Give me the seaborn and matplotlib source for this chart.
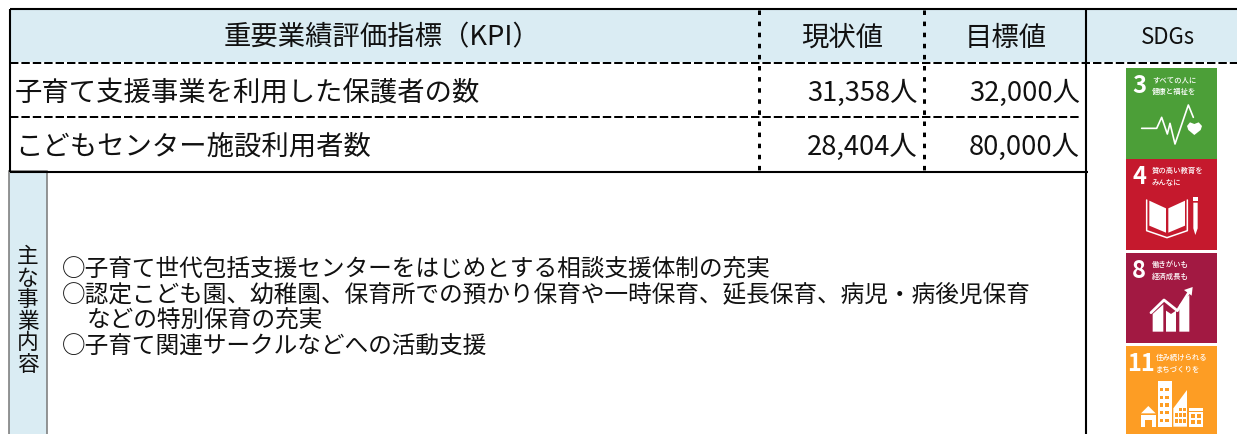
import matplotlib.pyplot as plt
from matplotlib.patches import Rectangle, Polygon, Circle
import seaborn as sns

sns.set_theme(style='white')
plt.rcParams['font.family'] = ['Noto Sans CJK JP', 'DejaVu Sans']

# table content
header_kpi = '重要業績評価指標（KPI）'
header_now = '現状値'
header_goal = '目標値'
header_sdg = 'SDGs'
kpi_names = ['子育て支援事業を利用した保護者の数', 'こどもセンター施設利用者数']
now_vals = ['31,358人', '28,404人']
goal_vals = ['32,000人', '80,000人']
side_label = '主\nな\n事\n業\n内\n容'
body_lines = [
    '○子育て世代包括支援センターをはじめとする相談支援体制の充実',
    '○認定こども園、幼稚園、保育所での預かり保育や一時保育、延長保育、病児・病後児保育',
    'などの特別保育の充実',
    '○子育て関連サークルなどへの活動支援',
]
goal_nums = ['3', '4', '8', '11']
goal_texts = ['すべての人に\n健康と福祉を', '質の高い教育を\nみんなに', '働きがいも\n経済成長も', '住み続けられる\nまちづくりを']
goal_cols = ['#4c9f38', '#c5192d', '#a21942', '#fd9d24']

HEAD = '#daecf3'
fig = plt.figure(figsize=(12.37, 4.34), dpi=100)
ax = fig.add_axes([0, 0, 1, 1])
ax.set_xlim(0, 1237)
ax.set_ylim(434, 0)
ax.axis('off')

# header band
ax.add_patch(Rectangle((10, 9), 1227, 53, fc=HEAD, ec='none'))

solid = dict(color='black', lw=1.5, solid_capstyle='butt')
dash = dict(color='black', lw=1.44, ls=(0, (4.2, 1.5)), dash_capstyle='butt')
dots = dict(color='black', lw=2.16, ls=(0, (1.5, 2.2)), dash_capstyle='butt')
ax.plot([10, 1237], [9, 9], **solid)
ax.plot([10, 10], [9, 172], **solid)
ax.plot([10, 1088], [172, 172], **solid)
ax.plot([1086, 1086], [9, 434], **solid)
ax.plot([10, 1237], [63, 63], **dash)
ax.plot([10, 1081], [117, 117], **dash)
for x in [759, 924]:
    ax.plot([x, x], [10, 170], **dots)

# side label box
ax.add_patch(Rectangle((9, 171), 38, 270, fc=HEAD, ec='#777777', lw=1.1))
ax.text(28, 311, side_label, fontsize=15.6, ha='center', va='center', linespacing=0.98, color='#111111')

big = dict(fontsize=19.7, color='#111111', va='center')
ax.text(382, 38, header_kpi, ha='center', **big)
ax.text(842, 38, header_now, ha='center', **big)
ax.text(1006, 38, header_goal, ha='center', **big)
ax.text(1168, 38, header_sdg, ha='center', fontsize=16, color='#111111', va='center')

for name, now, goal, y, x0 in zip(kpi_names, now_vals, goal_vals, [93, 147], [14.5, 15]):
    ax.text(x0, y, name, ha='left', **big)
    ax.text(918, y, now, ha='right', **big)
    ax.text(1080, y, goal, ha='right', **big)

for line, y, x0 in zip(body_lines, [269, 295, 321, 347], [62, 62, 87, 62]):
    ax.text(x0, y, line, fontsize=17.05, color='#111111', ha='left', va='center')

# SDG tiles
tops = [68, 159, 253, 346]
bottoms = [159, 250, 343, 434]
for num, txt, col, t, b in zip(goal_nums, goal_texts, goal_cols, tops, bottoms):
    ax.add_patch(Rectangle((1126, t), 91, b - t, fc=col, ec='none'))
    nx = 1139 if num != '11' else 1141
    ax.text(nx, t + 18, num, color='white', fontsize=17, fontweight='bold', ha='center', va='center')
    tx = 1152 if num != '11' else 1156
    ax.text(tx, t + 18, txt, color='white', fontsize=5.3, fontweight='medium', ha='left', va='center', linespacing=1.6)


def z3(pts):
    return [(1090 + x / 3, 60 + y / 3) for x, y in pts]


def z4(pts):
    return [(1090 + x / 3, 245 + y / 3) for x, y in pts]


def poly(pts, col='white'):
    ax.add_patch(Polygon(pts, closed=True, fc=col, ec='none'))


# icon 3, pulse and heart
pulse = z3([(155, 205), (200, 205), (215, 172), (232, 222), (240, 190), (255, 252), (295, 135), (310, 172)])
ax.plot(*zip(*pulse), color='white', lw=1.2)
poly(z3([(291, 198), (300, 187), (313, 192), (326, 187), (336, 198), (332, 210), (313, 225), (295, 210)]))

# icon 4, book and pencil
poly(z3([(178, 422), (228, 445), (228, 518), (178, 497)]))
poly(z3([(235, 445), (285, 422), (285, 497), (235, 518)]))
cover = z3([(170, 420), (170, 512), (231, 533), (292, 512), (292, 420)])
ax.plot(*zip(*cover), color='white', lw=1.1)
poly(z3([(310, 428), (323, 428), (323, 505), (316, 525), (310, 505)]))
ax.add_patch(Rectangle((1193.3, 196.5), 4.4, 4, fc='white', ec='none'))

# icon 8, bars and arrow
poly(z4([(188, 260), (188, 207), (220, 178), (220, 260)]))
poly(z4([(228, 260), (228, 197), (243, 207), (258, 197), (258, 260)]))
poly(z4([(268, 260), (268, 180), (298, 150), (298, 260)]))
arrow = z4([(183, 203), (222, 165), (262, 197), (298, 140)])
ax.plot(*zip(*arrow), color='white', lw=2)
poly(z4([(282, 135), (308, 126), (305, 152)]))

# icon 11, town
org = goal_cols[3]
poly(z4([(175, 483), (197, 505), (153, 505)]))
poly(z4([(153, 509), (197, 509), (197, 545), (185, 545), (185, 525), (165, 525), (165, 545), (153, 545)]))
poly(z4([(203, 408), (245, 408), (245, 545), (203, 545)]))
for wy in [428, 452, 475, 498, 522]:
    for wx in [210, 226]:
        poly(z4([(wx, wy), (wx + 10, wy), (wx + 10, wy + 10), (wx, wy + 10)]), org)
poly(z4([(250, 545), (250, 490), (291, 435), (291, 545)]))
for wy in [488, 505, 522]:
    for wx in [256, 268, 280]:
        if wy > 495 or wx > 262:
            poly(z4([(wx, wy), (wx + 8, wy), (wx + 8, wy + 11), (wx, wy + 11)]), org)
poly(z4([(297, 490), (338, 490), (338, 545), (297, 545)]))
poly(z4([(297, 497), (338, 497), (338, 502), (297, 502)]), org)
for wy in [508, 525]:
    for wx in [303, 320]:
        poly(z4([(wx, wy), (wx + 13, wy), (wx + 13, wy + 11), (wx, wy + 11)]), org)

fig.savefig('out.png', dpi=100)
